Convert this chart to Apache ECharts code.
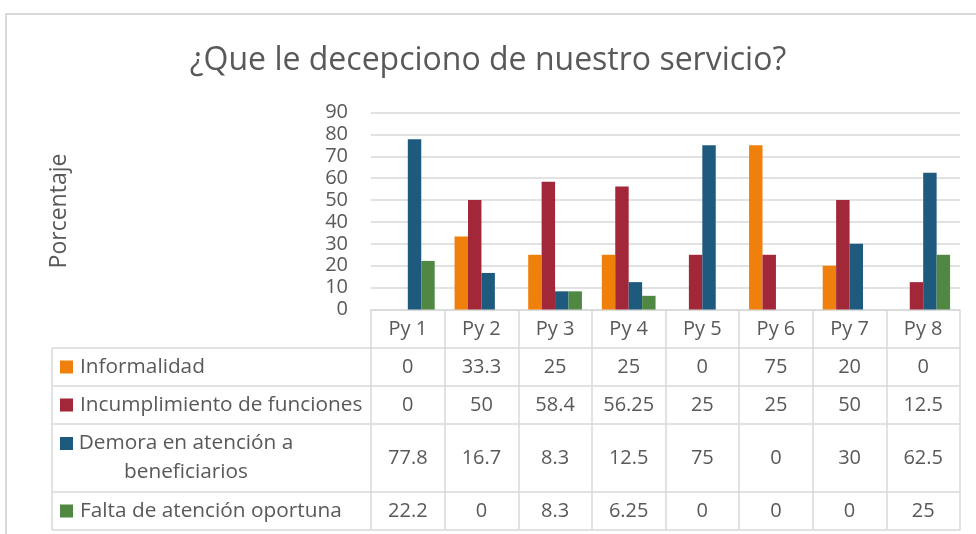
<!DOCTYPE html>
<html>
<head>
<meta charset="utf-8">
<script src="https://cdn.jsdelivr.net/npm/echarts@6/dist/echarts.min.js"></script>
<style>
  html, body { margin: 0; padding: 0; background: #fff; }
  #chart { width: 976px; height: 534px; }
</style>
</head>
<body>
<div id="chart"></div>
<script>
// 数据
const categories = ['Py 1', 'Py 2', 'Py 3', 'Py 4', 'Py 5', 'Py 6', 'Py 7', 'Py 8']
const rowLabels = ['Informalidad', 'Incumplimiento de funciones', 'Demora en atención a\nbeneficiarios', 'Falta de atención oportuna']
const informalidad = [0, 33.3, 25, 25, 0, 75, 20, 0]
const incumplimiento = [0, 50, 58.4, 56.25, 25, 25, 50, 12.5]
const demora = [77.8, 16.7, 8.3, 12.5, 75, 0, 30, 62.5]
const falta = [22.2, 0, 8.3, 6.25, 0, 0, 0, 25]
const seriesData = [informalidad, incumplimiento, demora, falta]
const colors = ['#F0800C', '#A12739', '#1E5A7D', '#4F8743']

// 布局
const FONT = 'Open Sans'
const TEXT = '#595959'
const LINE = '#d9d9d9'
const gridBox = { left: 371, right: 16, top: 112.5, bottom: 224.5 }
const tableLeft = 52
const rowHeights = [38, 38, 68, 38]
const LINE_H = 29

const chart = echarts.init(document.getElementById('chart'))

chart.setOption({
  animation: false,
  textStyle: { fontFamily: FONT },
  title: {
    text: '¿Que le decepciono de nuestro servicio?',
    left: 'center',
    top: 40,
    textStyle: { fontFamily: FONT, fontSize: 32, fontWeight: 'normal', color: TEXT }
  },
  grid: { ...gridBox, outerBoundsMode: 'none' },
  xAxis: {
    type: 'category',
    data: categories,
    axisLine: { lineStyle: { color: LINE, width: 1.5 } },
    axisTick: { show: true, interval: 0, length: 220.5, lineStyle: { color: LINE, width: 1.5 } },
    axisLabel: { fontSize: 20, color: TEXT, margin: 19.5, verticalAlign: 'middle', interval: 0 }
  },
  yAxis: {
    type: 'value',
    min: 0,
    max: 90,
    interval: 10,
    name: 'Porcentaje',
    nameLocation: 'middle',
    nameGap: 300,
    nameTextStyle: { fontSize: 23, color: TEXT },
    axisLine: { show: false },
    axisTick: { show: false },
    axisLabel: { fontSize: 20, color: TEXT, margin: 23 },
    splitLine: { lineStyle: { color: LINE, width: 1.5 } }
  },
  series: seriesData.map((d, i) => ({
    type: 'bar',
    name: rowLabels[i].replace('\n', ' '),
    data: d,
    barGap: '0%',
    barCategoryGap: '27%',
    itemStyle: { color: colors[i] }
  }))
})

// 数据表
function buildTable () {
  const first = chart.convertToPixel({ xAxisIndex: 0 }, categories[0])
  const last = chart.convertToPixel({ xAxisIndex: 0 }, categories[categories.length - 1])
  const colW = (last - first) / (categories.length - 1)
  const tableRight = last + colW / 2
  const top = chart.convertToPixel({ yAxisIndex: 0 }, 0) + 38.5
  const els = []

  // 外框
  els.push({
    type: 'rect',
    shape: { x: 6, y: 14, width: 1000, height: 600 },
    style: { fill: 'none', stroke: LINE, lineWidth: 2 },
    silent: true
  })

  let y = top
  els.push({ type: 'line', shape: { x1: tableLeft, y1: y, x2: tableRight, y2: y }, style: { stroke: LINE, lineWidth: 1.5 } })
  rowHeights.forEach((h, r) => {
    const cy = y + h / 2
    const lines = rowLabels[r].split('\n')
    const firstY = cy - (lines.length - 1) * LINE_H / 2
    els.push({ type: 'rect', shape: { x: 60, y: firstY - 6.5, width: 13, height: 13 }, style: { fill: colors[r] } })
    lines.forEach((t, k) => {
      els.push({
        type: 'text',
        x: lines.length > 1 ? 186 : 80,
        y: firstY + k * LINE_H,
        style: {
          text: t,
          fontFamily: FONT,
          fontSize: 20.8,
          fill: TEXT,
          align: lines.length > 1 ? 'center' : 'left',
          verticalAlign: 'middle'
        }
      })
    })
    seriesData[r].forEach((v, c) => {
      els.push({
        type: 'text',
        x: first + c * colW,
        y: cy,
        style: { text: String(v), fontFamily: FONT, fontSize: 20, fill: TEXT, align: 'center', verticalAlign: 'middle' }
      })
    })
    y += h
    els.push({ type: 'line', shape: { x1: tableLeft, y1: y, x2: tableRight, y2: y }, style: { stroke: LINE, lineWidth: 1.5 } })
  })
  els.push({ type: 'line', shape: { x1: tableLeft, y1: top, x2: tableLeft, y2: y }, style: { stroke: LINE, lineWidth: 1.5 } })

  chart.setOption({ graphic: { elements: els } })
}
buildTable()
</script>
</body>
</html>
